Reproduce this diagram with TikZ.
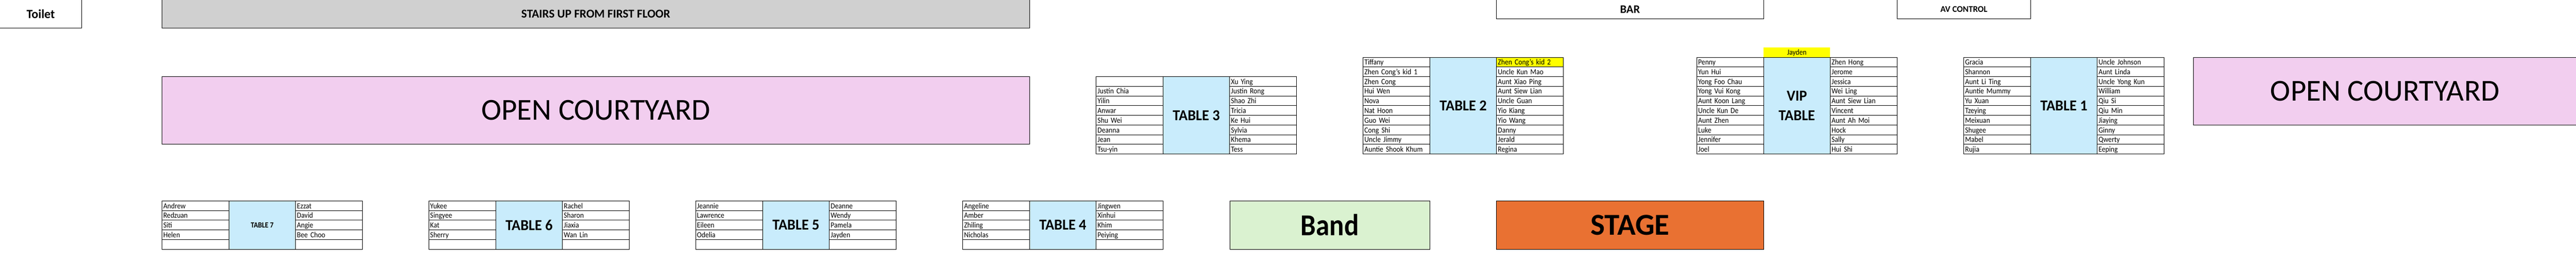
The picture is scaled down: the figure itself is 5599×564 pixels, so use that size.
\documentclass[tikz,border=0pt]{standalone}
\usepackage{fontspec}
\setmainfont{Carlito}[FakeStretch=0.9]
\newfontfamily\widefont{Carlito}
\newfontfamily\titlefont{Carlito}[FakeStretch=0.96]
\definecolor{tablefill}{HTML}{C9ECFC}
\definecolor{pinkfill}{HTML}{F2CEEF}
\definecolor{greyfill}{HTML}{D0D0D0}
\definecolor{greenfill}{HTML}{DAF2D0}
\definecolor{orangefill}{HTML}{E97132}
\definecolor{yellowfill}{HTML}{FFFF00}
\tikzset{
  x=1pt,y=-1pt,
  area/.style={anchor=north west,inner sep=0pt,outer sep=0pt,line width=1pt},
  seatcell/.style={area,draw=black,minimum height=21pt,text width=139.5pt,inner xsep=3pt,
    text height=16.5pt,text depth=4.5pt,font=\fontsize{17}{20}\selectfont,align=left},
  tablecell/.style={area,draw=black,fill=tablefill,minimum width=145pt,align=center,
    font=\titlefont\fontsize{33}{42}\selectfont\bfseries},
  smalltable/.style={tablecell,font=\fontsize{17}{20}\selectfont\bfseries},
  open/.style={line width=1pt,draw=black}
}
\newcommand{\seatcol}[4]{% prefix, x, y, names
  \foreach \seatname [count=\seati from 0] in {#4} {
    \node[seatcell,name=#1\seati] at (#2,#3+21*\seati) {\seatname};
  }
}
\begin{document}
\begin{tikzpicture}
\useasboundingbox (0,0) rectangle (5599,564);
% open-topped rooms
\node[area,minimum width=177pt,minimum height=61.5pt,font=\widefont\fontsize{27}{30}\selectfont\bfseries,name=toilet] at (0,0) {Toilet};
\draw[open] (toilet.north east) -- (toilet.south east) -- (toilet.south west);
\node[area,fill=greyfill,minimum width=1886pt,minimum height=61.5pt,font=\widefont\fontsize{26}{28}\selectfont\bfseries,name=stairs] at (352,0) {STAIRS UP FROM FIRST FLOOR};
\draw[open] (stairs.north west) -- (stairs.south west) -- (stairs.south east) -- (stairs.north east);
\node[area,minimum width=580.5pt,minimum height=40.3pt,font=\widefont\fontsize{25}{30}\selectfont\bfseries,name=bar] at (3252.6,0) {BAR};
\draw[open] (bar.north west) -- (bar.south west) -- (bar.south east) -- (bar.north east);
\node[area,minimum width=290.3pt,minimum height=40.3pt,font=\widefont\fontsize{19}{22}\selectfont\bfseries,name=av] at (4123.4,0) {AV CONTROL};
\draw[open] (av.north west) -- (av.south west) -- (av.south east) -- (av.north east);
% courtyards
\node[area,draw=black,fill=pinkfill,minimum width=1886pt,minimum height=147pt,font=\widefont\fontsize{66}{70}\selectfont,name=courtyardA] at (352,166) {OPEN COURTYARD};
\node[area,draw=black,fill=pinkfill,minimum width=832pt,minimum height=147pt,font=\widefont\fontsize{66}{70}\selectfont,name=courtyardB] at (4767.6,124.3) {OPEN COURTYARD};
% band and stage
\node[area,draw=black,fill=greenfill,minimum width=434.5pt,minimum height=105pt,font=\fontsize{66}{70}\selectfont\bfseries,name=band] at (2673,436) {Band};
\node[area,draw=black,fill=orangefill,minimum width=580.4pt,minimum height=105pt,font=\widefont\fontsize{66}{70}\selectfont\bfseries,name=stage] at (3252.6,436) {STAGE};
% table 7
\seatcol{sevenL}{352}{436}{Andrew,Redzuan,Siti,Helen,{}}
\node[smalltable,minimum height=105pt,name=seven] at (497.5,436) {TABLE 7};
\seatcol{sevenR}{642.5}{436}{Ezzat,David,Angie,Bee Choo,{}}
% table 6
\seatcol{sixL}{932}{436}{Yukee,Singyee,Kat,Sherry,{}}
\node[tablecell,minimum height=105pt,name=six] at (1077.5,436) {TABLE 6};
\seatcol{sixR}{1222.5}{436}{Rachel,Sharon,Jiaxia,Wan Lin,{}}
% table 5
\seatcol{fiveL}{1512}{436}{Jeannie,Lawrence,Eileen,Odelia,{}}
\node[tablecell,minimum height=105pt,name=five] at (1657.5,436) {TABLE 5};
\seatcol{fiveR}{1802.5}{436}{Deanne,Wendy,Pamela,Jayden,{}}
% table 4
\seatcol{fourL}{2092.5}{436}{Angeline,Amber,Zhiling,Nicholas,{}}
\node[tablecell,minimum height=105pt,name=four] at (2237.5,436) {TABLE 4};
\seatcol{fourR}{2382.5}{436}{Jingwen,Xinhui,Khim,Peiying,{}}
% table 3
\seatcol{threeL}{2382.7}{166.3}{{},Justin Chia,Yilin,Anwar,Shu Wei,Deanna,Jean,Tsu-yin}
\node[tablecell,minimum height=168pt,name=three] at (2527.7,166.3) {TABLE 3};
\seatcol{threeR}{2672.7}{166.3}{Xu Ying,Justin Rong,Shao Zhi,Tricia,Ke Hui,Sylvia,Khema,Tess}
% table 2
\seatcol{twoL}{2962.7}{124.3}{Tiffany,Zhen Cong's kid 1,Zhen Cong,Hui Wen,Nova,Nat Hoon,Guo Wei,Cong Shi,Uncle Jimmy,Auntie Shook Khum}
\node[tablecell,minimum height=210pt,name=two] at (3107.7,124.3) {TABLE 2};
\seatcol{twoR}{3252.7}{124.3}{{},Uncle Kun Mao,Aunt Xiao Ping,Aunt Siew Lian,Uncle Guan,Yio Kiang,Yio Wang,Danny,Jerald,Regina}
\node[seatcell,fill=yellowfill,name=twoRtop] at (3252.7,124.3) {Zhen Cong's kid 2};
% VIP
\node[area,fill=yellowfill,minimum width=145pt,minimum height=21pt,text height=16.5pt,text depth=4.5pt,font=\fontsize{17}{20}\selectfont,name=jayden] at (3833,103.3) {Jayden};
\seatcol{vipL}{3688}{124.3}{Penny,Yun Hui,Yong Foo Chau,Yong Vui Kong,Aunt Koon Lang,Uncle Kun De,Aunt Zhen,Luke,Jennifer,Joel}
\node[tablecell,minimum height=210pt,name=vip] at (3833,124.3) {VIP\\TABLE};
\seatcol{vipR}{3978}{124.3}{Zhen Hong,Jerome,Jessica,Wei Ling,Aunt Siew Lian,Vincent,Aunt Ah Moi,Hock,Sally,Hui Shi}
% table 1
\seatcol{oneL}{4268.3}{124.3}{Gracia,Shannon,Aunt Li Ting,Auntie Mummy,Yu Xuan,Tzeying,Meixuan,Shugee,Mabel,Rujia}
\node[tablecell,minimum height=210pt,name=one] at (4413.3,124.3) {TABLE 1};
\seatcol{oneR}{4558.3}{124.3}{Uncle Johnson,Aunt Linda,Uncle Yong Kun,William,Qiu Si,Qiu Min,Jiaying,Ginny,Qwerty,Eeping}
\end{tikzpicture}
\end{document}
